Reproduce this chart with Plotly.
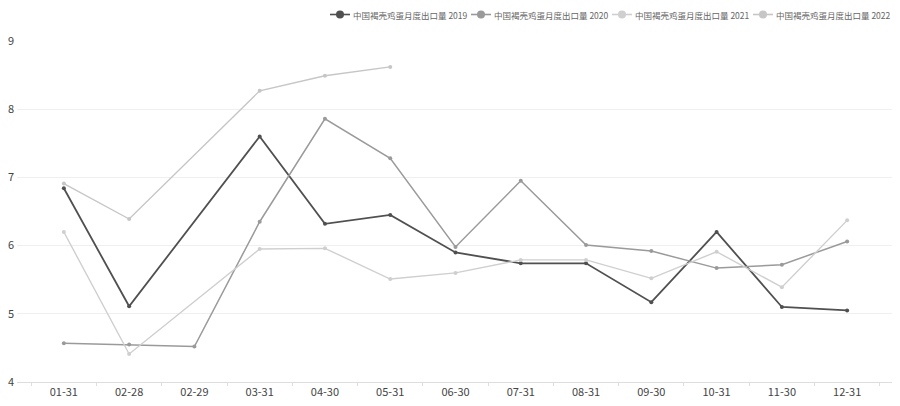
import plotly.graph_objects as go

categories = ["01-31", "02-28", "02-29", "03-31", "04-30", "05-31", "06-30",
              "07-31", "08-31", "09-30", "10-31", "11-30", "12-31"]
s2019 = [6.84, 5.11, None, 7.60, 6.32, 6.45, 5.90, 5.74, 5.74, 5.17, 6.20, 5.10, 5.05]
s2020 = [4.57, 4.55, 4.52, 6.35, 7.86, 7.28, 5.98, 6.95, 6.01, 5.92, 5.67, 5.72, 6.06]
s2021 = [6.20, 4.41, None, 5.95, 5.96, 5.51, 5.60, 5.79, 5.79, 5.52, 5.91, 5.39, 6.37]
s2022 = [6.91, 6.39, None, 8.27, 8.49, 8.62, None, None, None, None, None, None, None]
names = ["中国褐壳鸡蛋月度出口量 2019", "中国褐壳鸡蛋月度出口量 2020",
         "中国褐壳鸡蛋月度出口量 2021", "中国褐壳鸡蛋月度出口量 2022"]

colors = ["#505050", "#9a9a9a", "#cfcfcf", "#c6c6c6"]
widths = [1.8, 1.5, 1.4, 1.4]
series = [s2019, s2020, s2021, s2022]

# page body has an 8px default margin; size the figure to fit the 900x406 window
OFF = 8
W, H = 900 - OFF, 406 - OFF
ML, MR, MT, MB = 17 - OFF, 6, 41 - OFF, 24
PW, PH = W - ML - MR, H - MT - MB

fig = go.Figure()
for name, vals, c, w in zip(names, series, colors, widths):
    fig.add_trace(go.Scatter(
        x=categories, y=vals, name=name, mode="lines+markers",
        connectgaps=True, showlegend=False,
        line=dict(color=c, width=w),
        marker=dict(size=4, color=c),
    ))

# manual legend (ECharts style) in paper coordinates (reference window pixels)
def px2x(px):
    return (px - OFF - ML) / PW

def py2y(py):
    return (H - MB - (py - OFF)) / PH

leg_y = 14.5
icon_centers = [340, 481, 622, 763]
for name, c, cx in zip(names, colors, icon_centers):
    fig.add_shape(type="line", xref="paper", yref="paper",
                  x0=px2x(cx - 10), x1=px2x(cx + 10), y0=py2y(leg_y), y1=py2y(leg_y),
                  line=dict(color=c, width=1.6))
    fig.add_shape(type="circle", xref="paper", yref="paper",
                  x0=px2x(cx - 4), x1=px2x(cx + 4), y0=py2y(leg_y + 4), y1=py2y(leg_y - 4),
                  line=dict(color=c, width=0), fillcolor=c)
    fig.add_annotation(xref="paper", yref="paper", x=px2x(cx + 12), y=py2y(leg_y),
                       xanchor="left", yanchor="middle", showarrow=False, borderpad=0,
                       text=name, font=dict(size=8.5, color="#666666"))

font = "Noto Sans CJK SC, Noto Sans, sans-serif"
fig.update_layout(
    width=W, height=H,
    margin=dict(l=ML, r=MR, t=MT, b=MB, autoexpand=False),
    paper_bgcolor="white", plot_bgcolor="white",
    font=dict(family=font, size=11, color="#555555"),
    showlegend=False,
    xaxis=dict(type="category", categoryorder="array", categoryarray=categories,
               showgrid=False, showline=True, linecolor="#dddddd", linewidth=1,
               ticks="outside", tickson="boundaries", ticklen=3, tickcolor="#dddddd",
               tickfont=dict(size=11, color="#444444"), zeroline=False),
    yaxis=dict(range=[4, 9], dtick=1, showgrid=True, gridcolor="#efefef", gridwidth=1,
               zeroline=False, showline=False, ticks="", ticklabelstandoff=2,
               tickfont=dict(size=11, color="#444444")),
)

fig.write_html("out.html")
